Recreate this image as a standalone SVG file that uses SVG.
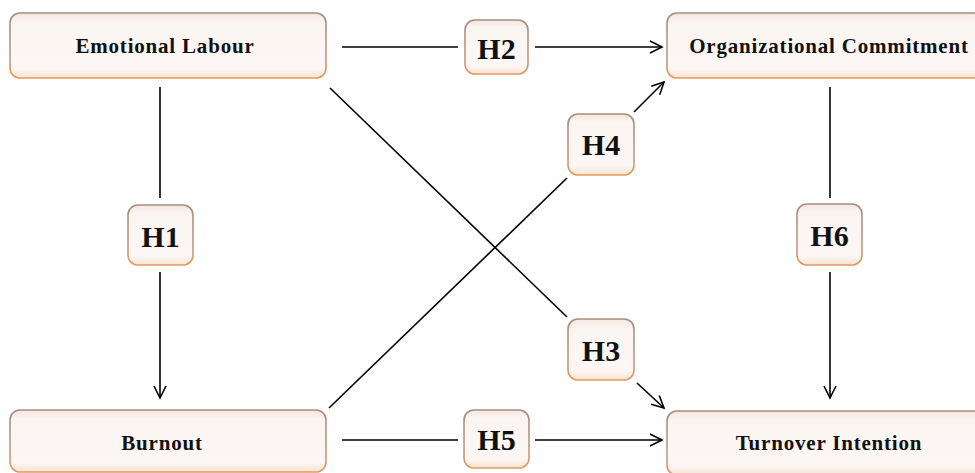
<svg xmlns="http://www.w3.org/2000/svg" width="975" height="473" viewBox="0 0 975 473">
<defs>
<linearGradient id="fillG" x1="0" y1="0" x2="0" y2="1">
<stop offset="0" stop-color="#f4e7df"/>
<stop offset="0.15" stop-color="#fbf5f2"/>
<stop offset="0.85" stop-color="#fcf7f4"/>
<stop offset="1" stop-color="#f7e2d2"/>
</linearGradient>
<linearGradient id="strokeG" x1="0" y1="0" x2="0" y2="1">
<stop offset="0" stop-color="#a88c7c"/>
<stop offset="0.7" stop-color="#c09a80"/>
<stop offset="1" stop-color="#e39a5c"/>
</linearGradient>
<marker id="arr" markerUnits="userSpaceOnUse" markerWidth="16" markerHeight="16" refX="12" refY="6" orient="auto" overflow="visible">
<path d="M0,0 L12,6 L0,12" fill="none" stroke="#000" stroke-width="1.6"/>
</marker>
</defs>
<style>
.box{fill:url(#fillG);stroke:url(#strokeG);stroke-width:1.6}
.t{font-family:"Liberation Serif","Times New Roman",serif;font-weight:bold;font-size:21px;letter-spacing:0.8px;fill:#111;text-anchor:middle}
.h{font-family:"Liberation Serif","Times New Roman",serif;font-weight:bold;font-size:30px;fill:#111;text-anchor:middle}
.ln{stroke:#000;stroke-width:1.6;fill:none}
</style>
<rect width="975" height="473" fill="#fff"/>
<g id="connectors">
<line class="ln" x1="342" y1="47" x2="458" y2="47"/>
<line class="ln" x1="535" y1="47" x2="662" y2="47" marker-end="url(#arr)"/>
<line class="ln" x1="342" y1="440" x2="458" y2="440"/>
<line class="ln" x1="535" y1="440" x2="662" y2="440" marker-end="url(#arr)"/>
<line class="ln" x1="160" y1="87" x2="160" y2="198"/>
<line class="ln" x1="160" y1="272" x2="160" y2="398" marker-end="url(#arr)"/>
<line class="ln" x1="830" y1="87" x2="830" y2="198"/>
<line class="ln" x1="830" y1="272" x2="830" y2="398" marker-end="url(#arr)"/>
<line class="ln" x1="330" y1="88" x2="567" y2="317"/>
<line class="ln" x1="637" y1="383" x2="664" y2="408" marker-end="url(#arr)"/>
<line class="ln" x1="329" y1="408" x2="567" y2="178"/>
<line class="ln" x1="634" y1="112" x2="664" y2="82" marker-end="url(#arr)"/>
</g>
<g id="emotional-labour">
<rect class="box" x="10" y="13" width="316" height="65" rx="10"/>
<text class="t" x="165" y="53">Emotional Labour</text>
</g>
<g id="organizational-commitment">
<rect class="box" x="667" y="13" width="324" height="65" rx="10"/>
<text class="t" x="829" y="53">Organizational Commitment</text>
</g>
<g id="burnout">
<rect class="box" x="10" y="410" width="316" height="62" rx="10"/>
<text class="t" x="162" y="450">Burnout</text>
</g>
<g id="turnover-intention">
<rect class="box" x="667" y="411" width="324" height="64" rx="10"/>
<text class="t" x="829" y="450">Turnover Intention</text>
</g>
<g id="h1">
<rect class="box" x="128" y="205" width="65" height="60" rx="10"/>
<text class="h" x="160.5" y="247">H1</text>
</g>
<g id="h2">
<rect class="box" x="465" y="20" width="63" height="54" rx="10"/>
<text class="h" x="496.5" y="59">H2</text>
</g>
<g id="h3">
<rect class="box" x="568" y="319" width="66" height="61" rx="10"/>
<text class="h" x="601" y="361">H3</text>
</g>
<g id="h4">
<rect class="box" x="568" y="114" width="66" height="61" rx="10"/>
<text class="h" x="601" y="155">H4</text>
</g>
<g id="h5">
<rect class="box" x="464" y="410" width="65" height="58" rx="10"/>
<text class="h" x="496.5" y="450">H5</text>
</g>
<g id="h6">
<rect class="box" x="797" y="204" width="65" height="61" rx="10"/>
<text class="h" x="829.5" y="246">H6</text>
</g>
</svg>
